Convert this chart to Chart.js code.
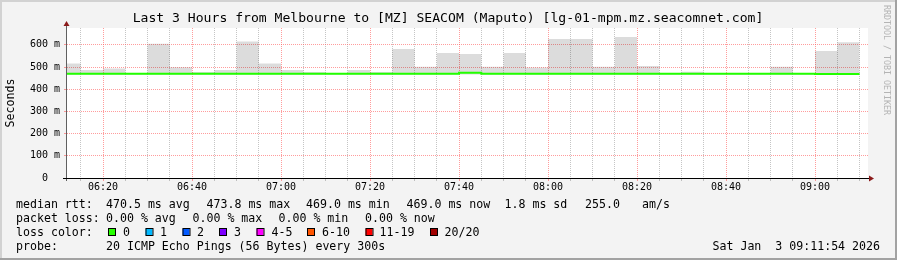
<!DOCTYPE html>
<html>
<head>
<meta charset="utf-8">
<script src="https://cdn.jsdelivr.net/npm/chart.js@4"></script>
<style>
  html, body { margin: 0; padding: 0; background: #f3f3f3; }
  canvas { display: block; }
</style>
</head>
<body>
<canvas id="smokeGraph" width="897" height="260"></canvas>
<script>
// 5 minute intervals (start time of each step)
const intervalStarts = [
  '06:10', '06:15', '06:20', '06:25', '06:30', '06:35', '06:40', '06:45', '06:50', '06:55',
  '07:00', '07:05', '07:10', '07:15', '07:20', '07:25', '07:30', '07:35', '07:40', '07:45',
  '07:50', '07:55', '08:00', '08:05', '08:10', '08:15', '08:20', '08:25', '08:30', '08:35',
  '08:40', '08:45', '08:50', '08:55', '09:00', '09:05'
];
const lastIntervalEnd = '09:10';

// top of the smoke (slowest ping of the step), in ms
const smokeMax = [
  516, 487, 494, 472, 605, 499, 478, 487, 615, 516,
  487, 478, 472, 487, 478, 581, 501, 563, 559, 501,
  563, 498, 626, 626, 501, 635, 505, 472, 479, 472,
  472, 472, 501, 472, 572, 612
];
const smokeMin = 466;

// median rtt per step, in ms
const medianRtt = [
  469.3, 469.3, 469.3, 469.3, 469.3, 469.3, 469.3, 469.3, 469.3, 469.3,
  469.3, 469.3, 469.3, 469.3, 469.3, 469.3, 469.3, 469.3, 473.8, 469.3,
  469.3, 469.3, 469.3, 469.3, 469.3, 469.3, 469.3, 469.3, 469.3, 469.3,
  469.3, 469.3, 469.3, 469.3, 469.2, 469.0
];

const xTickLabels = ['06:20', '06:40', '07:00', '07:20', '07:40', '08:00', '08:20', '08:40', '09:00'];
const yTickLabels = ['0  ', '100 m', '200 m', '300 m', '400 m', '500 m', '600 m'];

const lossLabels = ['0', '1', '2', '3', '4-5', '6-10', '11-19', '20/20'];
const lossColors = ['#26ff00', '#00b8ff', '#0059ff', '#7e00ff', '#ff00ff', '#ff5500', '#ff0000', '#a10000'];

const rangeStart = '06:11:54';
const rangeEnd = '09:11:54';
const titleText = 'Last 3 Hours from Melbourne to [MZ] SEACOM (Maputo) [lg-01-mpm.mz.seacomnet.com]';

// minutes since 06:00
function toMin(t) {
  const p = t.split(':').map(Number);
  return (p[0] - 6) * 60 + p[1] + (p[2] || 0) / 60;
}
function fmtMin(m) {
  const h = 6 + Math.floor(m / 60), mm = Math.round(m % 60);
  return String(h).padStart(2, '0') + ':' + String(mm).padStart(2, '0');
}

function stepPoints(values) {
  const pts = intervalStarts.map((t, i) => ({ x: toMin(t), y: values[i] }));
  pts.push({ x: toMin(lastIntervalEnd), y: values[values.length - 1] });
  return pts;
}

const MONO = 'DejaVu Sans Mono';
Chart.defaults.font.family = MONO;
Chart.defaults.color = '#000';

// background, frame, title, axes with arrows, legend and watermark (rrdtool look)
const rrdLook = {
  id: 'rrdLook',
  beforeDraw(chart) {
    const { ctx, chartArea: a, width, height } = chart;
    ctx.save();
    ctx.fillStyle = '#f3f3f3';
    ctx.fillRect(0, 0, width, height);
    ctx.fillStyle = '#d2d2d2';
    ctx.fillRect(0, 0, width, 2);
    ctx.fillRect(0, 0, 2, height);
    ctx.fillStyle = '#a2a2a2';
    ctx.fillRect(width - 2, 0, 2, height);
    ctx.fillRect(0, height - 2, width, 2);
    ctx.fillStyle = '#fff';
    ctx.fillRect(a.left, a.top, a.right - a.left, a.bottom - a.top);
    ctx.restore();
  },
  afterDraw(chart) {
    const { ctx, chartArea: a, width } = chart;
    ctx.save();
    // title
    ctx.fillStyle = '#000';
    ctx.font = '13.1px ' + MONO;
    ctx.textAlign = 'center';
    ctx.textBaseline = 'middle';
    ctx.fillText(titleText, 448, 19);

    // y axis
    ctx.strokeStyle = '#606060';
    ctx.lineWidth = 1;
    ctx.beginPath();
    ctx.moveTo(a.left - 0.5, a.bottom + 3);
    ctx.lineTo(a.left - 0.5, a.top - 3);
    ctx.stroke();
    // x axis
    ctx.strokeStyle = '#000';
    ctx.beginPath();
    ctx.moveTo(a.left - 4, a.bottom + 0.5);
    ctx.lineTo(a.right + 1, a.bottom + 0.5);
    ctx.stroke();
    // arrows
    ctx.fillStyle = '#8b1a1a';
    ctx.beginPath();
    ctx.moveTo(a.left - 0.5, a.top - 7);
    ctx.lineTo(a.left - 3.5, a.top - 2);
    ctx.lineTo(a.left + 2.5, a.top - 2);
    ctx.closePath();
    ctx.fill();
    ctx.beginPath();
    ctx.moveTo(a.right + 6, a.bottom + 0.5);
    ctx.lineTo(a.right + 1, a.bottom - 2.5);
    ctx.lineTo(a.right + 1, a.bottom + 3.5);
    ctx.closePath();
    ctx.fill();

    // legend
    ctx.fillStyle = '#000';
    ctx.font = '11.6px ' + MONO;
    ctx.textBaseline = 'middle';
    ctx.textAlign = 'left';
    const rows = [
      [204.5, [[16, 'median rtt:'], [106, '470.5 ms avg'], [206.5, '473.8 ms max'], [306, '469.0 ms min'],
               [406.5, '469.0 ms now'], [504.5, '1.8 ms sd'], [585, '255.0'], [642, 'am/s']]],
      [218.5, [[16, 'packet loss:'], [106, '0.00 % avg'], [192.5, '0.00 % max'], [278.5, '0.00 % min'], [365, '0.00 % now']]],
      [232.5, [[16, 'loss color:']]],
      [246.5, [[16, 'probe:'], [106, '20 ICMP Echo Pings (56 Bytes) every 300s']]]
    ];
    rows.forEach(([y, segs]) => segs.forEach(([x, s]) => ctx.fillText(s, x, y)));
    const boxX = [108, 145.5, 182.5, 219, 256.5, 307, 365.5, 430];
    const labX = [123, 160, 197, 234, 271.5, 322, 379.5, 444.5];
    lossLabels.forEach((l, i) => {
      ctx.fillStyle = lossColors[i];
      ctx.fillRect(boxX[i], 228.5, 7, 7);
      ctx.strokeStyle = '#000';
      ctx.strokeRect(boxX[i] + 0.5, 228.5, 7, 7);
      ctx.fillStyle = '#000';
      ctx.fillText(l, labX[i], 232.5);
    });
    ctx.textAlign = 'right';
    ctx.fillText('Sat Jan  3 09:11:54 2026', 880, 246.5);

    // watermark
    ctx.translate(width - 11, 5);
    ctx.rotate(Math.PI / 2);
    ctx.textAlign = 'left';
    ctx.fillStyle = '#b4b4b4';
    ctx.font = '8.3px ' + MONO;
    ctx.fillText('RRDTOOL / TOBI OETIKER', 0, 0);
    ctx.restore();
  }
};

const gridMinor = 'rgba(140, 140, 140, 0.5)';
const gridMajor = 'rgba(255, 90, 90, 0.6)';

new Chart(document.getElementById('smokeGraph').getContext('2d'), {
  type: 'line',
  data: {
    datasets: [
      {
        label: 'median rtt',
        data: stepPoints(medianRtt),
        stepped: 'before',
        borderColor: '#22ff00',
        borderWidth: 2,
        pointRadius: 0,
        fill: false
      },
      {
        label: 'smoke',
        data: stepPoints(smokeMax),
        stepped: 'before',
        borderWidth: 0,
        pointRadius: 0,
        backgroundColor: 'rgba(0, 0, 0, 0.137)',
        fill: { value: smokeMin }
      }
    ]
  },
  options: {
    responsive: false,
    animation: false,
    devicePixelRatio: 1,
    layout: { padding: { left: 0, right: 29, top: 28, bottom: 0 } },
    plugins: {
      legend: { display: false },
      tooltip: { enabled: false },
      title: { display: false }
    },
    scales: {
      x: {
        type: 'linear',
        min: toMin(rangeStart),
        max: toMin(rangeEnd),
        afterBuildTicks(scale) {
          const ticks = [];
          for (let m = Math.ceil(scale.min / 5) * 5; m <= scale.max; m += 5) ticks.push({ value: m });
          scale.ticks = ticks;
        },
        afterFit(scale) { scale.height = 82; },
        ticks: {
          autoSkip: false,
          maxRotation: 0,
          padding: 0,
          font: { family: MONO, size: 10 },
          callback(v) { return v % 20 === 0 && xTickLabels.includes(fmtMin(v)) ? fmtMin(v) : ''; }
        },
        grid: {
          lineWidth: 1,
          tickLength: 3,
          color: (c) => (c.tick && c.tick.value % 20 === 0 ? gridMajor : gridMinor)
        },
        border: { display: false, dash: [1, 1] }
      },
      y: {
        min: 0,
        max: 676,
        afterBuildTicks(scale) {
          const ticks = [];
          for (let v = 0; v <= scale.max; v += 50) ticks.push({ value: v });
          scale.ticks = ticks;
        },
        afterFit(scale) { scale.width = 67; },
        ticks: {
          padding: 4,
          font: { family: MONO, size: 10 },
          callback(v) { return v % 100 === 0 ? yTickLabels[v / 100] : ''; }
        },
        grid: {
          lineWidth: 1,
          tickLength: 3,
          color: (c) => (c.tick && c.tick.value % 100 === 0 ? gridMajor : gridMinor)
        },
        border: { display: false, dash: [1, 1] },
        title: {
          display: true,
          text: 'Seconds',
          color: '#000',
          font: { family: MONO, size: 11.6 },
          padding: { top: 4, bottom: 0 }
        }
      }
    }
  },
  plugins: [rrdLook]
});
</script>
</body>
</html>
